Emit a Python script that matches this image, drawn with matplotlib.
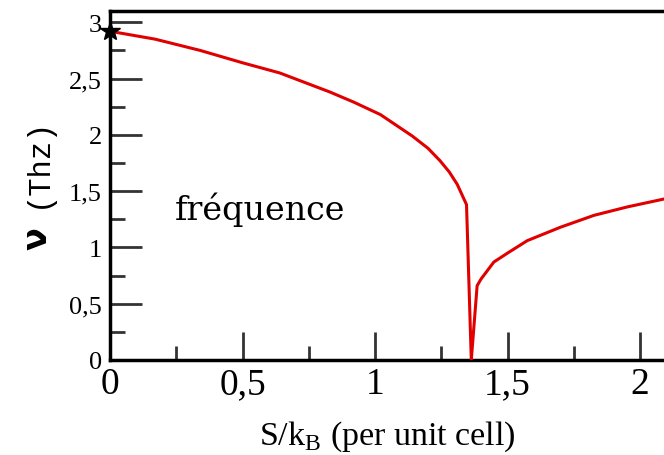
import matplotlib.pyplot as plt
import numpy as np
from matplotlib.ticker import MultipleLocator, FuncFormatter

# frequency vs entropy per unit cell
s_kb = [0.0, 0.17, 0.34, 0.5, 0.64, 0.83, 0.92, 1.02, 1.14, 1.2, 1.245, 1.28, 1.31,
        1.345, 1.363, 1.385, 1.40, 1.448, 1.50, 1.574, 1.70, 1.826, 1.952, 2.09]
freq = [2.92, 2.85, 2.75, 2.64, 2.55, 2.38, 2.29, 2.18, 1.99, 1.88, 1.77, 1.67, 1.56,
        1.38, 0.0, 0.66, 0.72, 0.87, 0.95, 1.06, 1.18, 1.285, 1.36, 1.43]
star_x, star_y = 0.0, 2.92

fig = plt.figure(figsize=(6.64, 4.56), dpi=100)
ax = fig.add_axes([110 / 664, (456 - 361) / 456, 1 - 110 / 664, (361 - 12) / 456])

ax.plot(s_kb, freq, color='#e00000', lw=2.2, zorder=3, solid_joinstyle='round')
ax.plot(star_x, star_y, marker='*', color='black', markersize=15, clip_on=False, zorder=4)

ax.set_xlim(0, 2.09)
ax.set_ylim(0, 3.1)

ax.xaxis.set_major_locator(MultipleLocator(0.5))
ax.xaxis.set_minor_locator(MultipleLocator(0.25))
ax.yaxis.set_major_locator(MultipleLocator(0.5))
ax.yaxis.set_minor_locator(MultipleLocator(0.25))

comma = FuncFormatter(lambda v, p: ('%g' % v).replace('.', ','))
ax.xaxis.set_major_formatter(comma)
ax.yaxis.set_major_formatter(comma)

ax.tick_params(which='both', direction='in', width=2, color='#333333')
ax.tick_params(axis='y', which='major', length=23, labelsize=19, pad=6)
ax.tick_params(axis='y', which='minor', length=11)
ax.tick_params(axis='x', which='major', length=20, labelsize=27, pad=5)
ax.tick_params(axis='x', which='minor', length=10)
for lab in ax.get_xticklabels() + ax.get_yticklabels():
    lab.set_family('Liberation Serif')

for side in ['left', 'bottom', 'top']:
    ax.spines[side].set_linewidth(2.5)
ax.spines['right'].set_visible(False)

ax.set_xlabel(r'S/k$_\mathregular{B}$ (per unit cell)', family='Liberation Serif', fontsize=24.5, labelpad=12)

# y label: bold nu followed by unit in monospace
fig.text(0.057, 0.474, r'$\mathbf{\nu}$', rotation=90, fontsize=24, ha='center', va='center')
fig.text(0.057, 0.645, '(Thz)', rotation=90, fontsize=22, family='Liberation Mono', ha='center', va='center')

ax.text(0.245, 1.34, 'fréquence', family='DejaVu Serif', fontsize=24, va='center')

fig.savefig('out.png', dpi=100)
